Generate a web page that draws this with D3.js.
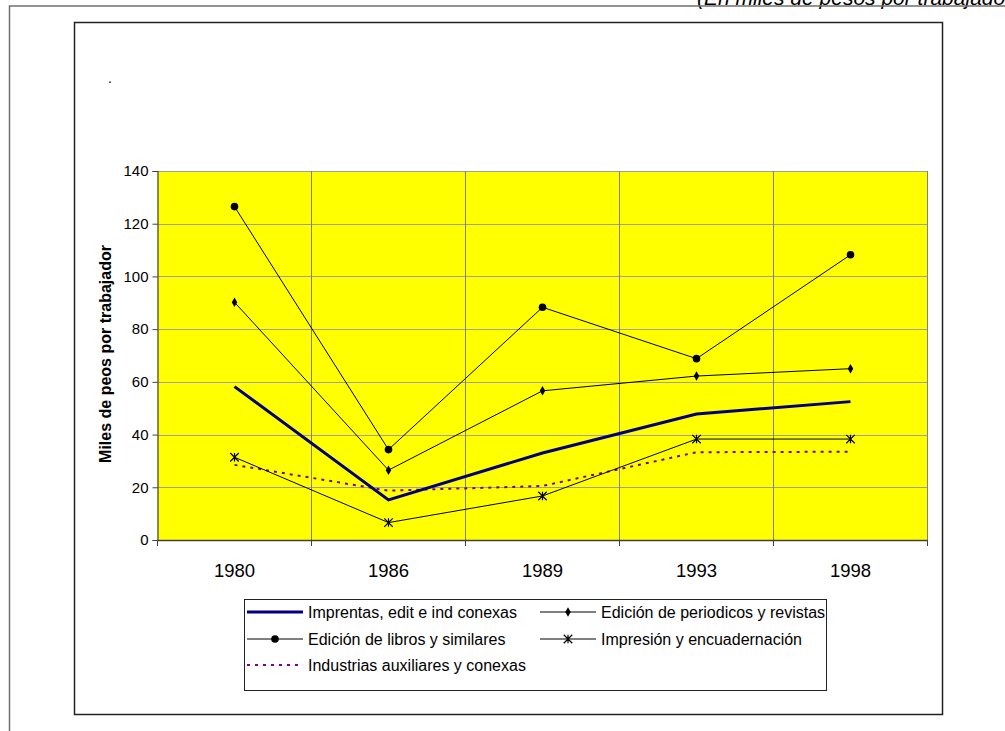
<!DOCTYPE html>
<html>
<head>
<meta charset="utf-8">
<script src="https://cdn.jsdelivr.net/npm/d3@7"></script>
<style>
  body { margin: 0; background: #fff; }
  svg { display: block; font-family: Arial, "Liberation Sans", sans-serif; }
</style>
</head>
<body>
<div id="chart"></div>
<script>
// data
var years = ["1980", "1986", "1989", "1993", "1998"];
var yTicks = [0, 20, 40, 60, 80, 100, 120, 140];

var imprentas  = [58.2, 15.2, 33.0, 47.8, 52.5];
var periodicos = [90.2, 26.5, 56.6, 62.2, 65.0];
var libros     = [126.5, 34.3, 88.3, 68.8, 108.2];
var impresion  = [31.4, 6.6, 16.7, 38.3, 38.3];
var auxiliares = [28.5, 18.7, 20.5, 33.3, 33.5];

var seriesNames = [
  "Imprentas, edit e ind conexas",
  "Edición de periodicos y revistas",
  "Edición de libros y similares",
  "Impresión y encuadernación",
  "Industrias auxiliares y conexas"
];

window.onload = function() {
  var W = 1005, H = 731;
  var plot = {left: 157.5, right: 927.5, top: 171, bottom: 540};

  var svg = d3.select("#chart").append("svg")
      .attr("width", W)
      .attr("height", H);

  // top-right note, cut by the page edge like in the original
  svg.append("text")
      .attr("x", 697)
      .attr("y", 5)
      .style("font-style", "italic")
      .style("font-size", "21px")
      .text("(En miles de pesos por trabajador)");

  // outer frame (top and left only)
  svg.append("path")
      .attr("d", "M9.5," + H + "V6H" + W)
      .attr("fill", "none")
      .attr("stroke", "#707070")
      .attr("stroke-width", 1.5);

  // chart box
  svg.append("rect")
      .attr("x", 74.5).attr("y", 22.5)
      .attr("width", 868).attr("height", 692)
      .attr("fill", "#fff")
      .attr("stroke", "#222")
      .attr("stroke-width", 1.5);

  // stray title dot
  svg.append("text")
      .attr("x", 108).attr("y", 83)
      .style("font-size", "14px")
      .text(".");

  var x = d3.scaleBand()
      .domain(years)
      .range([plot.left, plot.right])
      .paddingInner(0).paddingOuter(0);

  var y = d3.scaleLinear()
      .domain([0, 140])
      .range([plot.bottom, plot.top]);

  var cx = function(d, i) { return x(years[i]) + x.bandwidth() / 2; };

  // plot area
  svg.append("rect")
      .attr("x", plot.left).attr("y", plot.top)
      .attr("width", plot.right - plot.left)
      .attr("height", plot.bottom - plot.top)
      .attr("fill", "#ffff00");

  // horizontal grid
  svg.append("g")
      .selectAll("line")
      .data(yTicks.slice(1))
      .enter()
      .append("line")
      .attr("x1", plot.left).attr("x2", plot.right)
      .attr("y1", function(d) { return Math.round(y(d)) + 0.5; })
      .attr("y2", function(d) { return Math.round(y(d)) + 0.5; })
      .attr("stroke", "#a0a0a0")
      .attr("stroke-width", 1.2);

  // vertical grid at category boundaries
  svg.append("g")
      .selectAll("line")
      .data(years.slice(1).concat(["end"]))
      .enter()
      .append("line")
      .attr("x1", function(d) { return d == "end" ? plot.right : x(d); })
      .attr("x2", function(d) { return d == "end" ? plot.right : x(d); })
      .attr("y1", plot.top).attr("y2", plot.bottom)
      .attr("stroke", "#808080")
      .attr("stroke-width", 1);

  // y axis
  var yAxis = svg.append("g")
      .attr("transform", "translate(" + plot.left + ",0)")
      .call(d3.axisLeft(y).tickValues(yTicks).tickSize(5).tickPadding(4));
  yAxis.select(".domain").attr("stroke", "#404040").attr("stroke-width", 1.2);
  yAxis.selectAll(".tick line").attr("stroke", "#404040");
  yAxis.selectAll("text")
      .style("font-size", "15px")
      .style("font-family", "Arial, 'Liberation Sans', sans-serif")
      .attr("fill", "#000");

  // x axis: ticks at boundaries, labels centred
  var xg = svg.append("g");
  xg.append("line")
      .attr("x1", plot.left).attr("x2", plot.right)
      .attr("y1", plot.bottom + 0.5).attr("y2", plot.bottom + 0.5)
      .attr("stroke", "#404040").attr("stroke-width", 1.5);
  xg.selectAll(".xt")
      .data(years.concat(["end"]))
      .enter()
      .append("line")
      .attr("x1", function(d) { return d == "end" ? plot.right : x(d); })
      .attr("x2", function(d) { return d == "end" ? plot.right : x(d); })
      .attr("y1", plot.bottom).attr("y2", plot.bottom + 6)
      .attr("stroke", "#404040");
  xg.selectAll(".xl")
      .data(years)
      .enter()
      .append("text")
      .attr("x", function(d) { return x(d) + x.bandwidth() / 2; })
      .attr("y", 577)
      .attr("text-anchor", "middle")
      .style("font-size", "18.5px")
      .text(function(d) { return d; });

  // y title
  svg.append("text")
      .attr("transform", "translate(111,354) rotate(-90)")
      .attr("text-anchor", "middle")
      .style("font-size", "16px")
      .style("font-weight", "bold")
      .text("Miles de peos por trabajador");

  // marker shapes
  var starSymbol = {
    draw: function(ctx, size) {
      var r = Math.sqrt(size) / 2;
      ctx.moveTo(-r, -r); ctx.lineTo(r, r);
      ctx.moveTo(-r, r); ctx.lineTo(r, -r);
      ctx.moveTo(0, -r); ctx.lineTo(0, r);
    }
  };

  var line = d3.line()
      .x(cx)
      .y(function(d) { return y(d); });

  var series = [
    {values: auxiliares, color: "#800080", width: 2, dash: "3,5", marker: null},
    {values: impresion,  color: "#000", width: 1, dash: null, marker: "star"},
    {values: imprentas,  color: "#000080", width: 3, dash: null, marker: null},
    {values: periodicos, color: "#000", width: 1, dash: null, marker: "diamond"},
    {values: libros,     color: "#000", width: 1, dash: null, marker: "circle"}
  ];

  function drawMarker(g, type, px, py) {
    if (type == "circle") {
      g.append("circle").attr("cx", px).attr("cy", py).attr("r", 3.8).attr("fill", "#000");
    } else if (type == "diamond") {
      g.append("path")
          .attr("transform", "translate(" + px + "," + py + ")")
          .attr("d", d3.symbol().type(d3.symbolDiamond).size(26)())
          .attr("fill", "#000");
    } else if (type == "star") {
      g.append("path")
          .attr("transform", "translate(" + px + "," + py + ")")
          .attr("d", d3.symbol().type(starSymbol).size(72)())
          .attr("fill", "none")
          .attr("stroke", "#000")
          .attr("stroke-width", 1.2);
    }
  }

  series.forEach(function(s) {
    svg.append("path")
        .datum(s.values)
        .attr("d", line)
        .attr("fill", "none")
        .attr("stroke", s.color)
        .attr("stroke-width", s.width)
        .attr("stroke-dasharray", s.dash);
    if (s.marker) {
      var mg = svg.append("g");
      s.values.forEach(function(v, i) { drawMarker(mg, s.marker, cx(v, i), y(v)); });
    }
  });

  // legend
  var lg = svg.append("g");
  lg.append("rect")
      .attr("x", 244.5).attr("y", 599.5)
      .attr("width", 582).attr("height", 91)
      .attr("fill", "#fff")
      .attr("stroke", "#222")
      .attr("stroke-width", 1);

  var legendItems = [
    {name: seriesNames[0], color: "#000080", width: 3, dash: null, marker: null, col: 0, row: 0},
    {name: seriesNames[1], color: "#000", width: 1, dash: null, marker: "diamond", col: 1, row: 0},
    {name: seriesNames[2], color: "#000", width: 1, dash: null, marker: "circle", col: 0, row: 1},
    {name: seriesNames[3], color: "#000", width: 1, dash: null, marker: "star", col: 1, row: 1},
    {name: seriesNames[4], color: "#800080", width: 2, dash: "3,5", marker: null, col: 0, row: 2}
  ];
  var colX = [247, 540], rowY = [612, 639, 665];

  legendItems.forEach(function(it) {
    var lx = colX[it.col], ly = rowY[it.row];
    lg.append("line")
        .attr("x1", lx).attr("x2", lx + 56)
        .attr("y1", ly).attr("y2", ly)
        .attr("stroke", it.color)
        .attr("stroke-width", it.width)
        .attr("stroke-dasharray", it.dash);
    if (it.marker) drawMarker(lg, it.marker, lx + 28, ly);
    lg.append("text")
        .attr("x", lx + 61)
        .attr("y", ly + 6)
        .style("font-size", "16px")
        .text(it.name);
  });
};
</script>
</body>
</html>
